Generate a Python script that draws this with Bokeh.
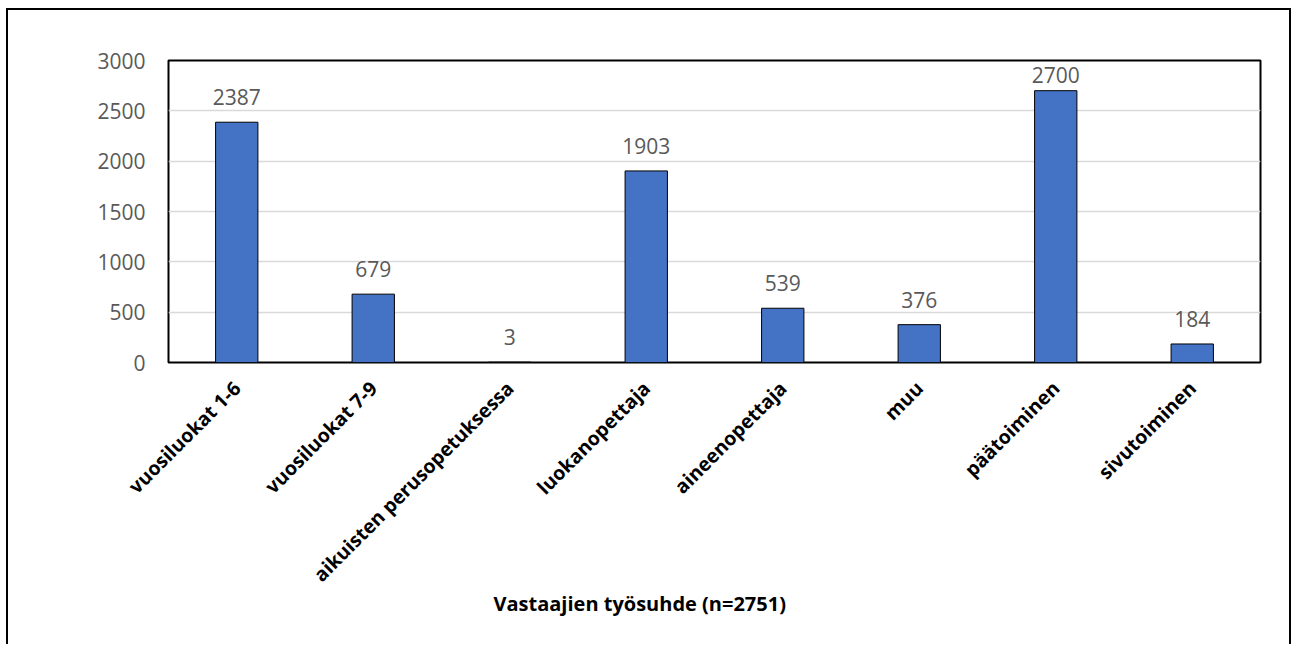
import math
from bokeh.plotting import figure
from bokeh.models import (ColumnDataSource, FactorRange, Range1d, LabelSet, Title,
                          SingleIntervalTicker)
from bokeh.core.properties import value
from bokeh.embed import file_html
from bokeh.resources import INLINE

categories = ["vuosiluokat 1-6", "vuosiluokat 7-9", "aikuisten perusopetuksessa",
              "luokanopettaja", "aineenopettaja", "muu", "päätoiminen", "sivutoiminen"]
values = [2387, 679, 3, 1903, 539, 376, 2700, 184]
labels = [str(v) for v in values]
x_title = "Vastaajien työsuhde (n=2751)"

FONT = "Open Sans"
Y_MAX = 3000
FRAME_W, FRAME_H = 1092, 302
LEFT, TOP = 160, 50
W, H = 1285, 636

# data labels sit 17px above bars, pushed down if they would leave the plot area
offsets = [min(17.0, (Y_MAX - v) * FRAME_H / Y_MAX - 22) for v in values]

src = ColumnDataSource(dict(cat=categories, val=values, lab=labels, off=offsets))

p = figure(x_range=FactorRange(*categories, range_padding=0),
           y_range=Range1d(0, Y_MAX),
           width=W, height=H, output_backend="svg", toolbar_location=None,
           min_border_left=LEFT, min_border_right=W - LEFT - FRAME_W,
           min_border_top=TOP, min_border_bottom=H - TOP - FRAME_H)
p.styles = {"border": "2px solid black", "border-bottom": "none",
            "margin-left": "6px", "margin-top": "8px"}

p.vbar(x="cat", top="val", width=0.31, source=src,
       fill_color="#4472C4", line_color="black", line_width=1)

p.outline_line_color = "black"
p.outline_line_width = 2
p.xgrid.grid_line_color = None
p.ygrid.grid_line_color = "#d9d9d9"
p.ygrid.grid_line_width = 1.5

p.yaxis.ticker = SingleIntervalTicker(interval=500)
p.yaxis.axis_line_color = None
p.yaxis.major_tick_line_color = None
p.yaxis.minor_tick_line_color = None
p.yaxis.major_tick_out = 0
p.yaxis.major_label_standoff = 19
p.yaxis.major_label_text_font = FONT
p.yaxis.major_label_text_font_size = "21px"
p.yaxis.major_label_text_color = "#595959"

p.xaxis.axis_line_color = None
p.xaxis.major_tick_line_color = None
p.xaxis.minor_tick_line_color = None
p.xaxis.major_tick_out = 0
p.xaxis.major_label_standoff = 22
p.xaxis.major_label_orientation = math.pi / 4
p.xaxis.major_label_text_font = FONT
p.xaxis.major_label_text_font_size = "19.5px"
p.xaxis.major_label_text_font_style = "bold"
p.xaxis.major_label_text_color = "black"

ls = LabelSet(x="cat", y="val", text="lab", source=src, text_align="center",
              text_baseline="alphabetic", y_offset="off", text_font=value(FONT),
              text_font_size=value("21px"), text_color="#595959")
p.add_layout(ls)

p.add_layout(Title(text=x_title, align="left", offset=325, standoff=-20,
                   vertical_align="top",
                   text_font=FONT, text_font_size="20px", text_font_style="bold",
                   text_color="black"), "below")

open("out.html", "w").write(file_html(p, INLINE))
